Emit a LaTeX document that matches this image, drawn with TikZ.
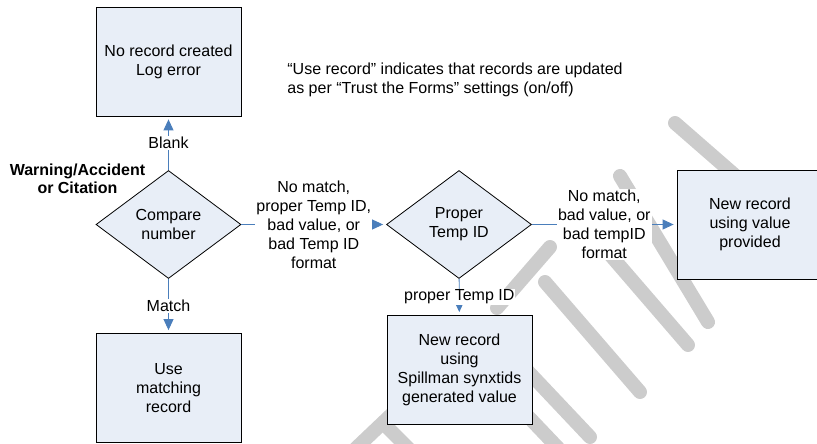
\documentclass[tikz,border=0pt]{standalone}
\usepackage{fontspec}
\setmainfont{Liberation Sans}
\usepackage{tikz}
\usetikzlibrary{shapes.geometric}
\usetikzlibrary{arrows.meta}
\definecolor{boxfill}{RGB}{232,238,247}
\definecolor{flowblue}{RGB}{74,126,187}
\definecolor{stampgray}{RGB}{204,204,204}
\tikzset{
every picture/.style={x=1pt, y=-1pt, line width=0.8pt,
                       >={Triangle[length=11pt,width=10pt]},
                       font=\fontsize{16pt}{19pt}\selectfont},
%%%%%%%%%%  Node styles
process/.style={draw, fill=boxfill, minimum width=145pt,
                minimum height=109pt, align=center, inner sep=2pt},
decision/.style={diamond, draw, fill=boxfill, minimum width=145pt,
                 minimum height=108pt, align=center, inner sep=0pt},
flowlabel/.style={fill=white, inner sep=1pt, align=center},
note/.style={align=left, anchor=west, inner sep=0pt},
%%%% different line styles:
flow/.style={->, draw=flowblue, line width=0.9pt, shorten >=3pt},
stamp/.style={draw=stampgray, line width=14pt, line cap=round}
}

\begin{document}
\begin{tikzpicture}
\useasboundingbox (0,0) rectangle (817,444);
%%%% watermark
\draw[stamp] (497,308) -- (550,247);
\draw[stamp] (545,282) -- (640,392);
\draw[stamp] (620,176) -- (708,322);
\draw[stamp] (600,243) -- (688,345);
\draw[stamp] (675,123) -- (800,232);
\draw[stamp] (505,347) -- (590,437);
\draw[stamp] (520,408) -- (560,450);
\draw[stamp] (352,452) -- (392,414);
\draw[stamp] (385,425) -- (412,452);
%%%% flow chart
\node[process] (nolog) at (168.5,61.5) {No record created\\Log error};
\node[decision] (cmp) at (168.5,224.5) {Compare\\number};
\node[process] (use) at (168.5,388) {Use\\matching\\record};
\node[decision] (ptid) at (459,224.5) {Proper\\Temp ID};
\node[process] (spill) at (459.5,370) {New record\\using\\Spillman synxtids\\generated value};
\node[process, minimum width=146pt] (newval) at (750,224.5) {New record\\using value\\provided};
\node[align=center, font=\fontsize{16pt}{18pt}\selectfont\bfseries] (src) at (77.5,179) {Warning/Accident\\or Citation};
\node[note] (info) at (287,79.5) {“Use record” indicates that records are updated\\as per “Trust the Forms” settings (on/off)};
\draw[flow] (cmp) -- node[flowlabel] {Blank} (nolog);
\draw[flow] (cmp) -- node[flowlabel] {Match} (use);
\draw[flow] (cmp) -- node[flowlabel] {No match,\\proper Temp ID,\\bad value, or\\bad Temp ID\\format} (ptid);
\draw[flow] (ptid) -- node[flowlabel] {proper Temp ID} (spill);
\draw[flow] (ptid) -- node[flowlabel] {No match,\\bad value, or\\bad tempID\\format} (newval);
\end{tikzpicture}
\end{document}
